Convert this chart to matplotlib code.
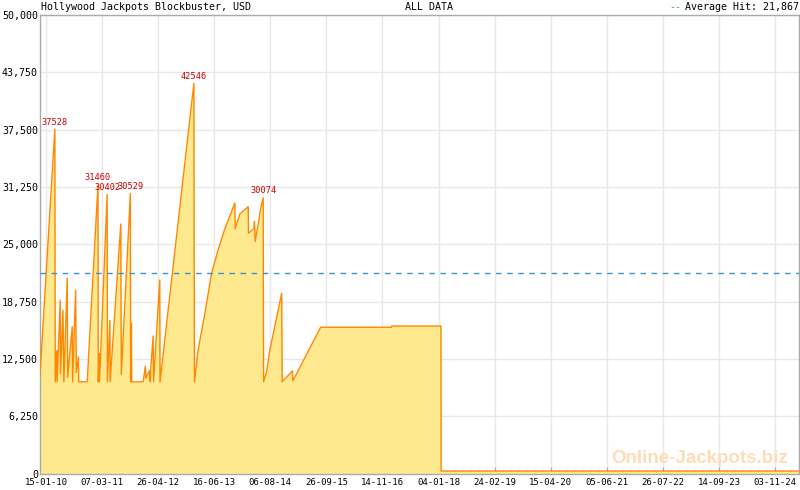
import pandas as pd
import matplotlib
matplotlib.use('Agg')
import matplotlib.pyplot as plt

# jackpot history, key points (date, USD)
dates = ['2009-12-02', '2010-03-22', '2010-03-25', '2010-04-06', '2010-04-08',
         '2010-05-01', '2010-05-03', '2010-05-21', '2010-05-28', '2010-06-22',
         '2010-06-25', '2010-07-29', '2010-08-01', '2010-08-23', '2010-08-28',
         '2010-09-13', '2010-09-15', '2010-11-17', '2011-02-05', '2011-02-07',
         '2011-02-14', '2011-02-16', '2011-04-14', '2011-04-16', '2011-05-04',
         '2011-05-06', '2011-07-24', '2011-07-28', '2011-10-03', '2011-10-05',
         '2011-10-11', '2011-10-13', '2012-01-06', '2012-01-22', '2012-01-26',
         '2012-02-21', '2012-02-24', '2012-03-20', '2012-03-23', '2012-05-08',
         '2012-05-10', '2013-01-16', '2013-01-20', '2013-02-17', '2013-04-08',
         '2013-05-27', '2013-07-15', '2013-09-03', '2013-11-16', '2013-11-18',
         '2013-12-23', '2014-02-23', '2014-02-25', '2014-04-06', '2014-04-10',
         '2014-04-16', '2014-05-28', '2014-06-14', '2014-06-17', '2014-07-08',
         '2014-08-03', '2014-10-29', '2014-11-02', '2015-01-17', '2015-01-20',
         '2015-08-14', '2017-01-21', '2017-01-22', '2018-01-22', '2018-01-23',
         '2025-04-30']
values = [10700, 37528, 10000, 13400, 10000,
          18900, 10900, 17800, 10000, 21300,
          10500, 16000, 10000, 20000, 11000,
          12700, 10000, 10000, 31460, 10000,
          13100, 10000, 30402, 10000, 16700,
          10000, 27200, 10800, 30529, 10000,
          16400, 10000, 10000, 11700, 10400,
          11200, 10000, 15000, 10000, 21100,
          10000, 42546, 10000, 13500, 17500,
          21800, 24400, 26700, 29500, 26700,
          28300, 29100, 26200, 26700, 27500,
          25300, 29000, 30074, 10000, 11000,
          13500, 19650, 10000, 11200, 10100,
          15950, 15950, 16080, 16080, 270,
          270]

# labelled peaks
peak_dates = ['2010-03-22', '2011-02-05', '2011-04-14', '2011-10-03', '2013-01-16', '2014-06-14']
peak_values = [37528, 31460, 30402, 30529, 42546, 30074]

average_hit = 21867
y_ticks = [0, 6250, 12500, 18750, 25000, 31250, 37500, 43750, 50000]
x_tick_labels = ['15-01-10', '07-03-11', '26-04-12', '16-06-13', '06-08-14', '26-09-15', '14-11-16',
                 '04-01-18', '24-02-19', '15-04-20', '05-06-21', '26-07-22', '14-09-23', '03-11-24']

W, H = 800, 490
mono = 'DejaVu Sans Mono'
grey = '#aaaaaa'

df = pd.DataFrame({'date': pd.to_datetime(dates), 'value': values})
tick_dates = pd.to_datetime(x_tick_labels, format='%d-%m-%y')

fig = plt.figure(figsize=(W / 100, H / 100), dpi=100)
ax = fig.add_axes([40 / W, 1 - 473.5 / H, 759 / W, 458.5 / H])

ax.fill_between(df['date'], df['value'], 0, color='#fee98f', lw=0, zorder=2)
ax.plot(df['date'], df['value'], color='#ff8800', lw=1.0, zorder=3)
ax.axhline(average_hit, color='#3a95c8', lw=1.0, ls=(0, (4, 4)), zorder=4)

for d, v in zip(pd.to_datetime(peak_dates), peak_values):
    ax.annotate(str(v), (d, v), xytext=(0, 2), textcoords='offset points',
                ha='center', va='bottom', fontsize=6.2, color='#cc0000', family=mono, zorder=5)

ax.set_yticks(y_ticks)
ax.set_yticklabels([f'{t:,}' for t in y_ticks], family=mono, fontsize=7.2)
ax.set_xticks(tick_dates)
ax.set_xticklabels(x_tick_labels, family=mono, fontsize=6.5)

# minor ticks: 7 per major interval
step = (tick_dates[1] - tick_dates[0]) / 7
minor = [tick_dates[0] + step * k for k in range(-1, 7 * 14 + 3)]
ax.set_xticks(minor, minor=True)

# limits after the ticks so they do not widen the view
ax.set_xlim(df['date'].iloc[0], df['date'].iloc[-1])
ax.set_ylim(0, 50000)

ax.tick_params(axis='x', which='major', direction='in', length=5, color=grey, pad=3)
ax.tick_params(axis='x', which='minor', direction='in', length=3, color=grey)
ax.tick_params(axis='y', length=0, pad=1.5)

ax.grid(True, which='major', color='#e8e8e8', lw=1.0, zorder=0)
ax.set_axisbelow(True)
for s in ax.spines.values():
    s.set_color(grey)
    s.set_linewidth(1.0)

# header texts
fig.text(41 / W, 1 - 7 / H, 'Hollywood Jackpots Blockbuster, USD', family=mono, fontsize=7.2, va='center')
fig.text(405 / W, 1 - 7 / H, 'ALL DATA', family=mono, fontsize=7.2, va='center')
fig.text(669 / W, 1 - 7 / H, '--', family=mono, fontsize=7.2, va='center', color='#3a95c8')
fig.text(799 / W, 1 - 7 / H, 'Average Hit: 21,867', family=mono, fontsize=7.2, va='center', ha='right')

# watermark
fig.text(788 / W, 1 - 458 / H, 'Online-Jackpots.biz', family='Liberation Sans', fontweight='bold',
         fontsize=13.5, color='#ffdcb8', ha='right', va='center')

fig.savefig('out.png', dpi=100)
